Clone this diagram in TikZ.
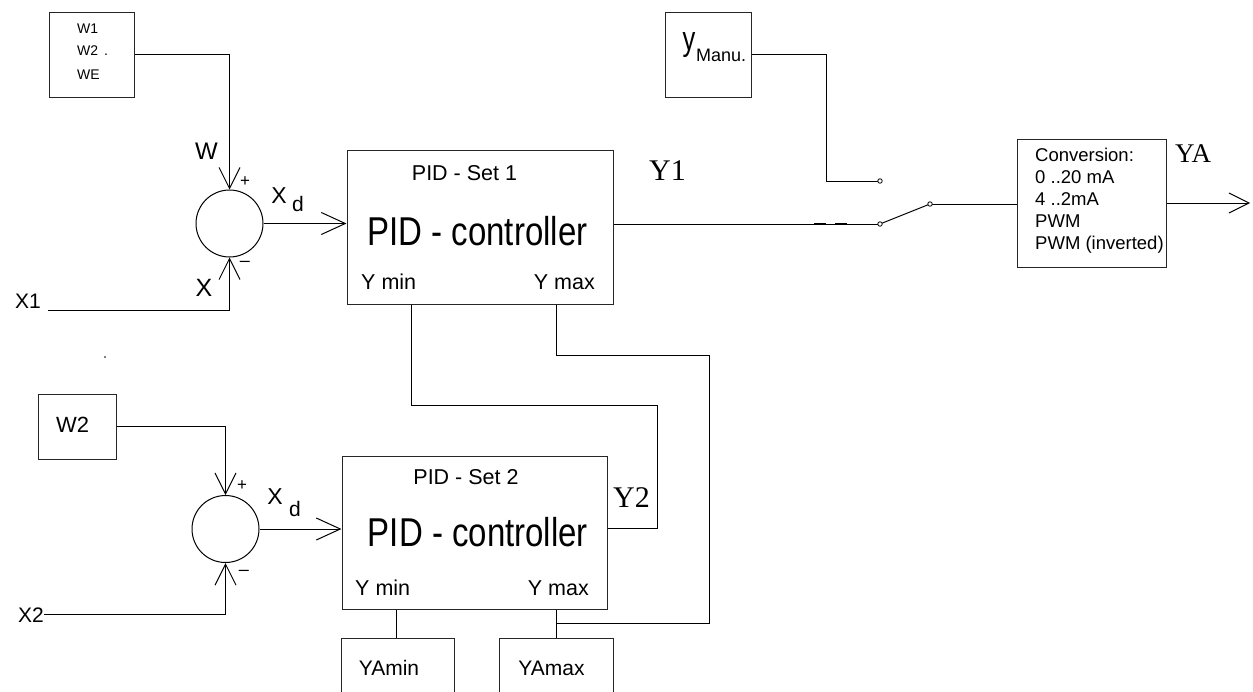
\documentclass[tikz,border=0pt]{standalone}
\usepackage{fontspec}
\setmainfont{Liberation Sans}
\newfontfamily\timesf{Liberation Serif}
\usetikzlibrary{arrows.meta}
\begin{document}
\begin{tikzpicture}[x=1pt,y=-1pt,
  ln/.style={line width=1pt,draw=black},
  bx/.style={draw=black!85,line width=1pt,inner sep=0pt,fill=none},
  txt/.style={inner sep=0pt,font=\fontsize{#1}{#1}\selectfont},
  ser/.style={inner sep=0pt,font=\timesf\fontsize{#1}{#1}\selectfont},
  sumc/.style={draw=black,circle,line width=1pt,minimum size=67pt,inner sep=0pt},
  contact/.style={draw=black,circle,fill=white,line width=0.8pt,minimum size=4.5pt,inner sep=0pt},
  arrA/.style={-{Straight Barb[length=21pt,width=21pt]}},
  arrB/.style={-{Straight Barb[length=24pt,width=22pt]}},
  arrC/.style={-{Straight Barb[length=20pt,width=20pt]}}
]
\useasboundingbox (0,0) rectangle (1253,691);

% ---------- boxes ----------
\node[bx,minimum width=85pt,minimum height=85pt] (wbox) at (91.5,54.5) {};
\node[bx,minimum width=78pt,minimum height=65pt] (w2box) at (77,426.5) {};
\node[bx,minimum width=266pt,minimum height=154pt] (box1) at (480,227) {};
\node[bx,minimum width=265pt,minimum height=153pt] (box2) at (474.5,532.5) {};
\node[bx,minimum width=86pt,minimum height=85pt] (manu) at (708,54.5) {};
\node[bx,minimum width=149pt,minimum height=128pt] (conv) at (1091.5,203) {};
\node[bx,minimum width=113pt,minimum height=62pt] (yamin) at (397.5,669) {};
\node[bx,minimum width=114pt,minimum height=62pt] (yamax) at (556.5,669) {};

% ---------- summing points ----------
\node[sumc] (sum1) at (229.5,223.5) {};
\node[sumc] (sum2) at (225.5,529) {};

% ---------- coordinates ----------
\coordinate (x1s) at (48,310);
\coordinate (x2s) at (44,614);
\coordinate (c1) at (880,224);
\coordinate (c2) at (880,181);
\coordinate (c3) at (930,204);
\coordinate (mk) at (826,181);
\coordinate (y2c) at (657,405);
\coordinate (ymc) at (709,355);
\coordinate (ymj) at (556,623);
\coordinate (yout) at (1250,203);

% ---------- connectors ----------
\draw[ln,arrA] (wbox.east) -| (sum1.north);
\draw[ln,arrA] (x1s) -| (sum1.south);
\draw[ln,arrB] (sum1.east) -- (sum1.east -| box1.west);
\draw[ln,arrA] (w2box.east) -| (sum2.north);
\draw[ln,arrA] (x2s) -| (sum2.south);
\draw[ln,arrB] (sum2.east) -- (sum2.east -| box2.west);

\draw[ln] (c1 -| box1.east) -- (c1);
\draw[line width=2pt] (814,224) -- (826,224) (835,224) -- (847,224);
\draw[ln] (manu.east) -| (mk) -- (c2);
\draw[ln] (c1) -- (c3);
\draw[ln] (c3) -- (c3 -| conv.west);
\draw[ln,arrC] (conv.east) -- (yout);

\draw[ln] ([xshift=-69pt]box1.south) |- (y2c) |- ([yshift=4.5pt]box2.east);
\draw[ln] ([xshift=76pt]box1.south) |- (ymc) |- (ymj);
\draw[ln] ([xshift=81.5pt]box2.south) -- ([xshift=-0.5pt]yamax.north);
\draw[ln] ([xshift=-78.5pt]box2.south) -- ([xshift=-1.5pt]yamin.north);

\node[contact] (k1) at (c1) {};
\node[contact] (k2) at (c2) {};
\node[contact] (k3) at (c3) {};

% ---------- texts ----------
\node[txt=14,anchor=base west] (tw1) at (77,33) {W1};
\node[txt=14,anchor=base west] (tw2) at (77,55) {W2\hspace{6pt}.};
\node[txt=14,anchor=base west] (twe) at (77,79) {WE};
\node[txt=22,anchor=base west] (tw2b) at (56,432) {W2};

\node[txt=24] (lw) at (206.5,151.5) {W};
\node[txt=17] (lp1) at (245,182) {+};
\node[txt=23] (lx1) at (279,196) {X};
\node[txt=21] (ld1) at (298,204) {d};
\node[txt=25] (lx) at (204,288) {X};
\node[txt=18] (lm1) at (245,264) {–};
\node[txt=21,anchor=base west] (tx1) at (15,308) {X1};

\node[txt=17] (lp2) at (242,486) {+};
\node[txt=23] (lx2) at (275,497) {X};
\node[txt=21] (ld2) at (295,509) {d};
\node[txt=18] (lm2) at (244,573) {–};
\node[txt=21,anchor=base west] (tx2) at (18,622) {X2};

\node[txt=21.5,anchor=base] (s1) at (464.5,180) {PID - Set 1};
\node[txt=33,anchor=base] (c1t) at (477.5,245) {\scalebox{1}[1.22]{PID - controller}};
\node[txt=21.5,anchor=base west] (mn1) at (361,289) {Y min};
\node[txt=21.5,anchor=base east] (mx1) at (595,289) {Y max};

\node[txt=21.5,anchor=base] (s2) at (466,484) {PID - Set 2};
\node[txt=33,anchor=base] (c2t) at (478,546) {\scalebox{1}[1.22]{PID - controller}};
\node[txt=21.5,anchor=base west] (mn2) at (355,595) {Y min};
\node[txt=21.5,anchor=base east] (mx2) at (589,595) {Y max};

\node[txt=21,anchor=base] (tyamin) at (389,675) {YAmin};
\node[txt=21,anchor=base] (tyamax) at (551.5,675) {YAmax};

\node[ser=30,anchor=base] (ty1) at (667.5,180) {Y1};
\node[ser=30,anchor=base] (ty2) at (631.5,507) {Y2};
\node[ser=27,anchor=base] (tya) at (1193,162) {YA};

\node[txt=34] (tyy) at (689,45) {\scalebox{0.75}[1]{y}};
\node[txt=18,anchor=base west] (tman) at (696,61) {Manu.};

\node[txt=18.5,anchor=base west] (cv1) at (1035,161) {Conversion:};
\node[txt=18.5,anchor=base west] (cv2) at (1035,183) {0 ..20 mA};
\node[txt=18.5,anchor=base west] (cv3) at (1035,205) {4 ..2mA};
\node[txt=18.5,anchor=base west] (cv4) at (1035,227) {PWM};
\node[txt=18.5,anchor=base west] (cv5) at (1035,249) {PWM (inverted)};

\fill (105,357) circle (0.8pt);
\end{tikzpicture}
\end{document}
